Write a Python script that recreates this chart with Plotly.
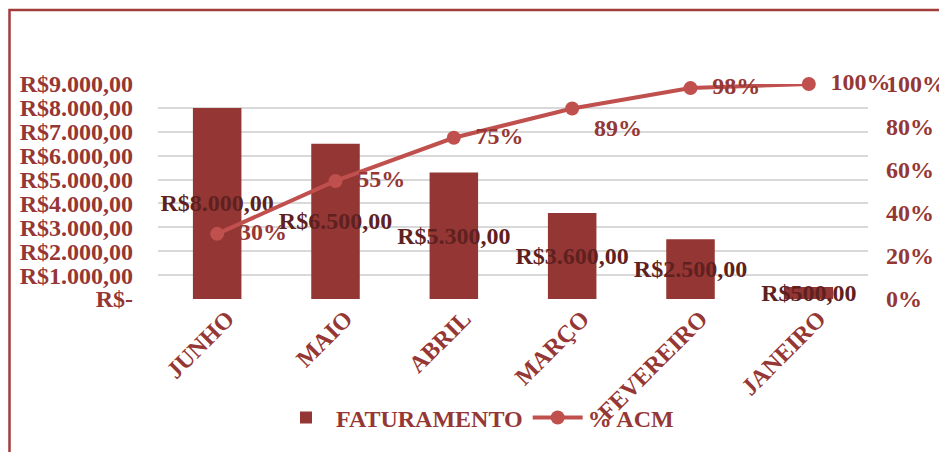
import plotly.graph_objects as go

meses = ["JUNHO", "MAIO", "ABRIL", "MARÇO", "FEVEREIRO", "JANEIRO"]
faturamento = [8000, 6500, 5300, 3600, 2500, 500]
faturamento_txt = ["R$8.000,00", "R$6.500,00", "R$5.300,00", "R$3.600,00", "R$2.500,00", "R$500,00"]
pct_acm = [0.303, 0.549, 0.750, 0.886, 0.981, 1.000]
pct_txt = ["30%", "55%", "75%", "89%", "98%", "100%"]

y_ticks = [0, 1000, 2000, 3000, 4000, 5000, 6000, 7000, 8000, 9000]
y_ticktext = ["R$-", "R$1.000,00", "R$2.000,00", "R$3.000,00", "R$4.000,00",
              "R$5.000,00", "R$6.000,00", "R$7.000,00", "R$8.000,00", "R$9.000,00"]
y2_ticks = [0, 0.2, 0.4, 0.6, 0.8, 1.0]
y2_ticktext = ["0%", "20%", "40%", "60%", "80%", "100%"]

FONT = "Liberation Serif"
TICK_COLOR = "#953735"
BAR_COLOR = "#943634"
LINE_COLOR = "#C0504D"
LABEL_DARK = "#5E2120"
FS = 24

# page body has an 8px margin, so the figure is drawn 8px in from the top-left
OFF = 8
L, T, PW, PH, R, B = 158 - OFF, 84 - OFF, 710, 215, 79, 153

fig = go.Figure()
fig.add_trace(go.Bar(
    x=meses, y=faturamento, name="FATURAMENTO",
    marker=dict(color=BAR_COLOR, line=dict(width=0)),
    width=0.41,
    text=faturamento_txt, textposition="inside", insidetextanchor="middle",
    textangle=0, constraintext="none",
    textfont=dict(family=FONT, size=FS, color=LABEL_DARK, weight="bold"),
    cliponaxis=False,
))
fig.add_trace(go.Scatter(
    x=meses, y=pct_acm, name="% ACM", yaxis="y2",
    mode="lines+markers+text",
    line=dict(color=LINE_COLOR, width=4),
    marker=dict(color=LINE_COLOR, size=14),
    text=["  " + t for t in pct_txt],
    textposition=["middle right", "middle right", "middle right",
                   "bottom right", "middle right", "middle right"],
    textfont=dict(family=FONT, size=FS, color=TICK_COLOR, weight="bold"),
    cliponaxis=False,
))

fig.update_layout(
    width=L + PW + R, height=T + PH + B,
    margin=dict(l=L, r=R, t=T, b=B, autoexpand=False),
    paper_bgcolor="white", plot_bgcolor="white",
    font=dict(family=FONT, size=FS, color=TICK_COLOR),
    showlegend=True,
    legend=dict(orientation="h", x=0.45, xanchor="center", y=-0.553, yanchor="middle",
                font=dict(family=FONT, size=FS, color=TICK_COLOR, weight="bold"),
                itemwidth=50, bgcolor="rgba(0,0,0,0)"),
    xaxis=dict(showgrid=False, tickangle=-45, showline=False, ticks="", automargin=False,
               ticklabelshift=10,
               tickfont=dict(family=FONT, size=FS, color=TICK_COLOR, weight="bold")),
    yaxis=dict(range=[0, 9000], tickvals=y_ticks, ticktext=y_ticktext, automargin=False,
               showgrid=True, gridcolor="#D9D9D9", gridwidth=1.5, zeroline=False,
               ticks="", ticklen=0, ticklabelstandoff=24,
               tickfont=dict(family=FONT, size=FS, color=TICK_COLOR, weight="bold")),
    yaxis2=dict(range=[0, 1.0], overlaying="y", side="right", automargin=False,
                tickvals=y2_ticks, ticktext=y2_ticktext, showgrid=False, zeroline=False,
                ticks="", ticklen=0, ticklabelstandoff=17,
                tickfont=dict(family=FONT, size=FS, color=TICK_COLOR, weight="bold")),
)

# chart-area border (left edge near page x=9, top at page y=10; right/bottom off-page)
fig.add_shape(type="rect", xref="paper", yref="paper",
              x0=(9.5 - 158) / PW, x1=(960 - 158) / PW,
              y0=(299 - 470) / PH, y1=(299 - 10) / PH,
              line=dict(color="#A33D3B", width=2.5), fillcolor="rgba(0,0,0,0)", layer="below")

fig.write_html("out.html")
